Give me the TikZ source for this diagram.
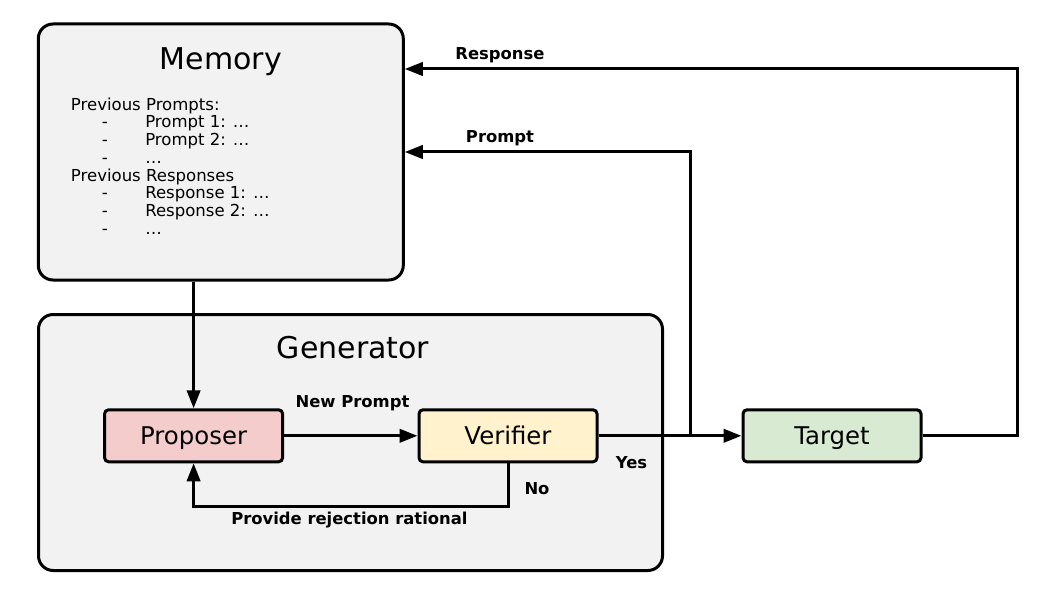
\documentclass[tikz,border=0pt]{standalone}
\usepackage{fontspec}
\setmainfont{DejaVu Sans}
\usetikzlibrary{arrows.meta}
\definecolor{boxgray}{HTML}{F2F2F2}
\definecolor{proposerfill}{HTML}{F4CCCC}
\definecolor{verifierfill}{HTML}{FFF2CC}
\definecolor{targetfill}{HTML}{D9EAD3}
\begin{document}
\begin{tikzpicture}[x=0.75pt,y=-0.75pt,
  bigbox/.style={draw=black, line width=2.25pt, fill=boxgray, rounded corners=11pt,
    minimum width=#1, minimum height=192pt, inner sep=0pt},
  smallbox/.style={draw=black, line width=2.25pt, rounded corners=3pt,
    minimum width=133.5pt, minimum height=39pt, inner sep=0pt,
    text height=13.4pt, text depth=0pt,
    font=\fontsize{18.3pt}{21pt}\selectfont},
  arr/.style={line width=2.25pt, -{Triangle[length=13.5pt,width=10pt]}},
  conn/.style={line width=2.25pt},
  lbl/.style={font=\fontsize{12.3pt}{14pt}\selectfont\bfseries, inner sep=0pt, anchor=base},
  title/.style={font=\fontsize{22.5pt}{26pt}\selectfont, inner sep=0pt, anchor=base}]
\useasboundingbox (0,0) rectangle (1063,599);
% big boxes
\node[bigbox=273.75pt] (memory) at (220.8,152) {};
\node[bigbox=468pt] (generator) at (350.5,442.5) {};
\node[title] (memtitle) at (220.8,70) {Memory};
\node[title] (gentitle) at (353,358) {Generator};
\node[anchor=base west, inner sep=0pt, align=left,
  font=\fontsize{12.4pt}{13.3pt}\selectfont] (memlist) at (70.7,234.3) {%
Previous Prompts:\\
\hspace*{23.25pt}\makebox[32.5pt][l]{-}Prompt 1: …\\
\hspace*{23.25pt}\makebox[32.5pt][l]{-}Prompt 2: …\\
\hspace*{23.25pt}\makebox[32.5pt][l]{-}…\\
Previous Responses\\
\hspace*{23.25pt}\makebox[32.5pt][l]{-}Response 1: …\\
\hspace*{23.25pt}\makebox[32.5pt][l]{-}Response 2: …\\
\hspace*{23.25pt}\makebox[32.5pt][l]{-}…};
% small boxes
\node[smallbox, fill=proposerfill] (proposer) at (193.6,435.8) {Proposer};
\node[smallbox, fill=verifierfill] (verifier) at (508,435.8) {Verifier};
\node[smallbox, fill=targetfill] (target) at (832,435.8) {Target};
% connectors
\draw[arr] (proposer.north |- memory.south) -- (proposer.north);
\draw[arr] (proposer.east) -- (verifier.west);
\draw[arr] (verifier.east) -- (target.west);
\coordinate (split) at (690,435.8);
\draw[arr] (split) |- (memory.east);
\coordinate (respcorner) at (1017,69);
\draw[arr] (target.east) -| (respcorner) -- (memory.east |- respcorner);
\draw[arr] (verifier.south) -- ++(0,43) -| (proposer.south);
% labels
\node[lbl] (lresp) at (500,60) {Response};
\node[lbl] (lprompt) at (500,142.3) {Prompt};
\node[lbl] (lnew) at (352.5,407.3) {New Prompt};
\node[lbl] (lyes) at (631.5,468.3) {Yes};
\node[lbl] (lno) at (537,494.3) {No};
\node[lbl] (lrej) at (349.4,524.3) {Provide rejection rational};
\end{tikzpicture}
\end{document}
